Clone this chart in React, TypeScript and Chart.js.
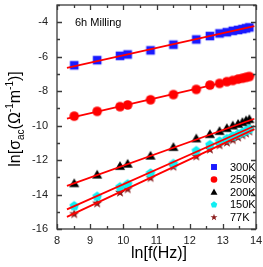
import React, { useEffect, useRef } from "react";
import { Chart, registerables } from "chart.js";

Chart.register(...registerables);

const lnF = [8.52, 9.21, 9.9, 10.13, 10.82, 11.51, 12.2, 12.61, 12.9, 13.12, 13.3, 13.46, 13.59, 13.7, 13.8];
const s300 = [-6.5, -6.2, -5.95, -5.87, -5.63, -5.3, -5.0, -4.8, -4.65, -4.58, -4.5, -4.45, -4.4, -4.35, -4.3];
const s250 = [-9.45, -9.17, -8.9, -8.8, -8.5, -8.2, -7.9, -7.65, -7.55, -7.45, -7.38, -7.3, -7.25, -7.2, -7.15];
const s200 = [-13.35, -12.85, -12.35, -12.22, -11.75, -11.25, -10.75, -10.5, -10.32, -10.15, -10.0, -9.9, -9.8, -9.7, -9.63];
const s150 = [-14.65, -14.1, -13.55, -13.38, -12.75, -12.2, -11.45, -11.1, -10.9, -10.75, -10.6, -10.48, -10.38, -10.28, -10.18];
const s77 = [-15.1, -14.48, -13.85, -13.65, -13.0, -12.35, -11.75, -11.35, -11.1, -10.95, -10.8, -10.65, -10.52, -10.42, -10.3];

const fitX = [8.3, 13.95];
const fit300 = [-6.65, -4.22];
const fit250 = [-9.6, -7.08];
const fit200 = [-13.5, -9.6];
const fit150 = [-14.86, -10.02];
const fit77 = [-15.3, -10.2];

const labels = ["300K", "250K", "200K", "150K", "77K"];
const xTicks = [8, 9, 10, 11, 12, 13, 14];
const yTicks = [-16, -14, -12, -10, -8, -6, -4];

type Kind = "square" | "circle" | "triangle" | "pentagon" | "star";
const kinds: Kind[] = ["square", "circle", "triangle", "pentagon", "star"];
const colors = ["#1a1aff", "#ff0000", "#000000", "#10eef2", "#8b1c1c"];

function drawShape(ctx: CanvasRenderingContext2D, kind: Kind, x: number, y: number, r: number, color: string) {
  ctx.save();
  ctx.fillStyle = color;
  ctx.beginPath();
  if (kind === "square") {
    ctx.rect(x - r * 0.9, y - r * 0.9, r * 1.8, r * 1.8);
  } else if (kind === "circle") {
    ctx.arc(x, y, r, 0, Math.PI * 2);
  } else if (kind === "triangle") {
    ctx.moveTo(x, y - r * 1.05);
    ctx.lineTo(x + r * 1.05, y + r * 0.8);
    ctx.lineTo(x - r * 1.05, y + r * 0.8);
    ctx.closePath();
  } else if (kind === "pentagon") {
    for (let i = 0; i < 5; i++) {
      const a = -Math.PI / 2 + (i * 2 * Math.PI) / 5;
      const px = x + r * 1.05 * Math.cos(a);
      const py = y + r * 1.05 * Math.sin(a) + r * 0.08;
      if (i === 0) ctx.moveTo(px, py);
      else ctx.lineTo(px, py);
    }
    ctx.closePath();
  } else {
    for (let i = 0; i < 10; i++) {
      const a = -Math.PI / 2 + (i * Math.PI) / 5;
      const rr = i % 2 === 0 ? r * 1.1 : r * 0.45;
      const px = x + rr * Math.cos(a);
      const py = y + rr * Math.sin(a) + r * 0.1;
      if (i === 0) ctx.moveTo(px, py);
      else ctx.lineTo(px, py);
    }
    ctx.closePath();
  }
  ctx.fill();
  ctx.restore();
}

function makeMarker(kind: Kind, color: string, r: number) {
  const c = document.createElement("canvas");
  const s = Math.ceil(r * 2.4) + 2;
  c.width = s;
  c.height = s;
  const ctx = c.getContext("2d")!;
  drawShape(ctx, kind, s / 2, s / 2, r, color);
  return c;
}

const decorPlugin = {
  id: "decor",
  afterDatasetsDraw(chart: any) {
    const ctx: CanvasRenderingContext2D = chart.ctx;
    const { left, right, top, bottom } = chart.chartArea;
    const xs = chart.scales.x;
    const ys = chart.scales.y;
    ctx.save();
    ctx.strokeStyle = "#3a3a3a";
    ctx.lineWidth = 1.3;
    ctx.strokeRect(left, top, right - left, bottom - top);
    ctx.beginPath();
    for (let v = 8; v <= 14.001; v += 0.5) {
      const px = Math.round(xs.getPixelForValue(v)) + 0.5;
      const major = Math.abs(v - Math.round(v)) < 1e-6;
      const len = major ? 5 : 3;
      ctx.moveTo(px, bottom);
      ctx.lineTo(px, bottom - len);
      ctx.moveTo(px, top);
      ctx.lineTo(px, top + len);
    }
    for (let v = -16; v <= -3; v += 1) {
      const py = Math.round(ys.getPixelForValue(v)) + 0.5;
      const major = v % 2 === 0;
      const len = major ? 5 : 3;
      ctx.moveTo(left, py);
      ctx.lineTo(left + len, py);
      ctx.moveTo(right, py);
      ctx.lineTo(right - len, py);
    }
    ctx.stroke();

    // annotation
    ctx.fillStyle = "#000";
    ctx.font = "11px 'Liberation Sans', Arial, sans-serif";
    ctx.textBaseline = "middle";
    ctx.textAlign = "left";
    ctx.fillText("6h Milling", 75, 23);

    // legend
    const lx = 214;
    const tx = 230;
    const ly0 = 167;
    const dy = 12.5;
    for (let i = 0; i < labels.length; i++) {
      const y = ly0 + i * dy;
      drawShape(ctx, kinds[i], lx, y, 3.3, colors[i]);
      ctx.fillStyle = "#000";
      ctx.fillText(labels[i], tx, y + 0.5);
    }

    // x title
    ctx.font = "16px 'Liberation Sans', Arial, sans-serif";
    ctx.textAlign = "center";
    ctx.textBaseline = "alphabetic";
    ctx.fillText("ln[f(Hz)]", 159, 258);

    // y title with sub/superscripts
    const big = "16px 'Liberation Sans', Arial, sans-serif";
    const small = "10px 'Liberation Sans', Arial, sans-serif";
    const parts: [string, string, number][] = [
      ["ln[σ", big, 0],
      ["ac", small, 4],
      ["(Ω", big, 0],
      ["-1", small, -7],
      ["m", big, 0],
      ["-1", small, -7],
      [")]", big, 0],
    ];
    let total = 0;
    for (const [t, f] of parts) {
      ctx.font = f;
      total += ctx.measureText(t).width;
    }
    ctx.translate(20, 119);
    ctx.rotate(-Math.PI / 2);
    ctx.textAlign = "left";
    let cx = -total / 2;
    for (const [t, f, off] of parts) {
      ctx.font = f;
      ctx.fillText(t, cx, off);
      cx += ctx.measureText(t).width;
    }
    ctx.restore();
  },
};

export default function App() {
  const ref = useRef<HTMLCanvasElement | null>(null);
  useEffect(() => {
    if (!ref.current) return;
    const series = [s300, s250, s200, s150, s77];
    const fits = [fit300, fit250, fit200, fit150, fit77];
    const datasets: any[] = [];
    series.forEach((s, i) => {
      datasets.push({
        type: "scatter",
        label: labels[i],
        data: lnF.map((x, j) => ({ x, y: s[j] })),
        pointStyle: makeMarker(kinds[i], colors[i], 4.8),
        showLine: false,
        order: 2,
      });
    });
    fits.forEach((f) => {
      datasets.push({
        type: "line",
        label: "",
        data: fitX.map((x, j) => ({ x, y: f[j] })),
        borderColor: "#ff0000",
        borderWidth: 1.8,
        pointRadius: 0,
        showLine: true,
        fill: false,
        order: 1,
      });
    });
    const chart = new Chart(ref.current, {
      type: "scatter",
      data: { datasets },
      options: {
        responsive: false,
        animation: false,
        layout: { padding: { top: 1, right: 7, left: 0, bottom: 0 } },
        plugins: { legend: { display: false }, tooltip: { enabled: false } },
        scales: {
          x: {
            type: "linear",
            min: 8,
            max: 14,
            afterFit: (s: any) => {
              s.height = 38;
              s.paddingLeft = 0;
              s.paddingRight = 0;
            },
            afterBuildTicks: (s: any) => {
              s.ticks = xTicks.map((v) => ({ value: v }));
            },
            grid: { display: false, drawTicks: false },
            border: { display: false },
            ticks: {
              padding: 5,
              color: "#222",
              font: { family: "'Liberation Sans', Arial, sans-serif", size: 11 },
              maxRotation: 0,
            },
          },
          y: {
            type: "linear",
            min: -16,
            max: -3,
            afterFit: (s: any) => {
              s.width = 57;
              s.paddingTop = 0;
              s.paddingBottom = 0;
            },
            afterBuildTicks: (s: any) => {
              s.ticks = yTicks.map((v) => ({ value: v }));
            },
            grid: { display: false, drawTicks: false },
            border: { display: false },
            ticks: {
              padding: 9,
              color: "#222",
              font: { family: "'Liberation Sans', Arial, sans-serif", size: 11 },
            },
          },
        },
      } as any,
      plugins: [decorPlugin],
    });
    return () => chart.destroy();
  }, []);
  return (
    <div style={{ position: "fixed", left: 0, top: 0, width: 263, height: 267, background: "#fff" }}>
      <canvas ref={ref} width={263} height={267} />
    </div>
  );
}
